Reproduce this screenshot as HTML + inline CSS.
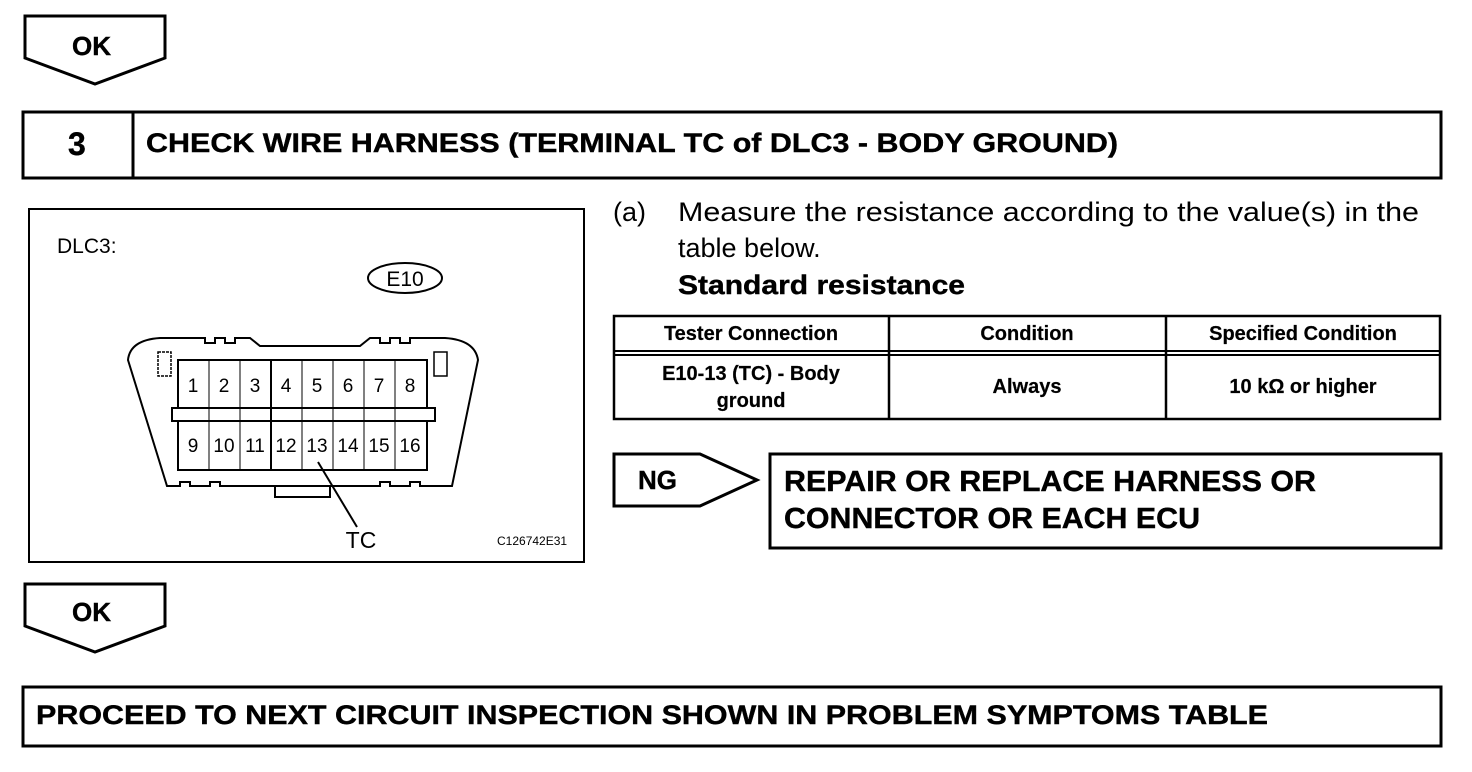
<!DOCTYPE html>
<html><head><meta charset="utf-8"><style>html,body{margin:0;padding:0;background:#fff}svg{display:block}</style></head>
<body>
<svg width="1472" height="772" viewBox="0 0 1472 772" xmlns="http://www.w3.org/2000/svg" font-family="Liberation Sans, Arial, sans-serif">
<g fill="none" stroke="#000" stroke-width="3">
<polygon points="25,16 165,16 165,58 95,84 25,58"/>
<rect x="23" y="112" width="1418" height="66"/>
<line x1="133" y1="112" x2="133" y2="178"/>
<polygon points="25,584 165,584 165,626 95,652 25,626"/>
<rect x="23" y="687" width="1418" height="59"/>
<polygon points="614,454 700,454 757,480 700,506 614,506"/>
<rect x="770" y="454" width="671" height="94"/>
<rect x="614" y="316" width="826" height="103" stroke-width="2.5"/>
<line x1="889" y1="316" x2="889" y2="419" stroke-width="2.5"/>
<line x1="1166" y1="316" x2="1166" y2="419" stroke-width="2.5"/>
<line x1="614" y1="351" x2="1440" y2="351" stroke-width="2"/>
<line x1="614" y1="355" x2="1440" y2="355" stroke-width="2"/>
<rect x="29" y="209" width="555" height="353" stroke-width="2"/>
</g>
<g font-weight="bold" fill="#000" stroke="#000" stroke-width="0.4">
<text x="72" y="55" font-size="26">OK</text>
<text x="72" y="621" font-size="26">OK</text>
<text x="68" y="155" font-size="32">3</text>
<text x="146" y="152" font-size="27" textLength="972" lengthAdjust="spacingAndGlyphs">CHECK WIRE HARNESS (TERMINAL TC of DLC3 - BODY GROUND)</text>
<text x="36" y="724" font-size="27" textLength="1232" lengthAdjust="spacingAndGlyphs">PROCEED TO NEXT CIRCUIT INSPECTION SHOWN IN PROBLEM SYMPTOMS TABLE</text>
<text x="638" y="489" font-size="26">NG</text>
<text x="784" y="491" font-size="29" textLength="532" lengthAdjust="spacingAndGlyphs">REPAIR OR REPLACE HARNESS OR</text>
<text x="784" y="528" font-size="29" textLength="416" lengthAdjust="spacingAndGlyphs">CONNECTOR OR EACH ECU</text>
<text x="678" y="294" font-size="27" textLength="287" lengthAdjust="spacingAndGlyphs">Standard resistance</text>
<g font-size="20" text-anchor="middle" stroke-width="0.2">
<text x="751" y="340">Tester Connection</text>
<text x="1027" y="340">Condition</text>
<text x="1303" y="340">Specified Condition</text>
<text x="751" y="380">E10-13 (TC) - Body</text>
<text x="751" y="407">ground</text>
<text x="1027" y="393">Always</text>
<text x="1303" y="393">10 kΩ or higher</text>
</g>
</g>
<g fill="#000" font-size="27">
<text x="613" y="221">(a)</text>
<text x="678" y="221" textLength="741" lengthAdjust="spacingAndGlyphs">Measure the resistance according to the value(s) in the</text>
<text x="678" y="257">table below.</text>
</g>
<!-- connector -->
<g fill="none" stroke="#000" stroke-width="2">
<path d="M160,338 L205,338 L205,343 L215,343 L215,338 L225,338 L225,343 L235,343 L235,338 L250,338 L260,346 L360,346 L370,338 L380,338 L380,343 L390,343 L390,338 L400,338 L400,343 L410,343 L410,338 L445,338 Q475,340 478,360 L452,486 L420,486 L420,482 L410,482 L410,486 L390,486 L390,482 L380,482 L380,486 L220,486 L220,482 L210,482 L210,486 L190,486 L190,482 L180,482 L180,486 L167,486 L128,360 Q130,340 160,338 Z"/>
<rect x="178" y="360" width="249" height="110"/>
<rect x="172" y="408" width="263" height="13" fill="#fff"/>
<rect x="158" y="352" width="13" height="24" stroke-width="1.5" stroke-dasharray="3,1"/>
<rect x="434" y="352" width="13" height="24" stroke-width="1.5"/>
<path d="M275,486 L275,497 L330,497 L330,486"/>
<line x1="318" y1="462" x2="357" y2="527"/>
<ellipse cx="405" cy="278" rx="37" ry="15"/>
</g>
<g stroke="#000" stroke-width="1">
<line x1="209" y1="360" x2="209" y2="470"/><line x1="240" y1="360" x2="240" y2="470"/><line x1="271" y1="360" x2="271" y2="470" stroke-width="2"/><line x1="302" y1="360" x2="302" y2="470"/><line x1="333" y1="360" x2="333" y2="470"/><line x1="364" y1="360" x2="364" y2="470"/><line x1="395" y1="360" x2="395" y2="470"/>
</g>
<g fill="#000" font-size="19" text-anchor="middle">
<text x="193" y="392">1</text><text x="224" y="392">2</text><text x="255" y="392">3</text><text x="286" y="392">4</text><text x="317" y="392">5</text><text x="348" y="392">6</text><text x="379" y="392">7</text><text x="410" y="392">8</text>
<text x="193" y="452">9</text><text x="224" y="452">10</text><text x="255" y="452">11</text><text x="286" y="452">12</text><text x="317" y="452">13</text><text x="348" y="452">14</text><text x="379" y="452">15</text><text x="410" y="452">16</text>
<text x="405" y="286" font-size="21">E10</text>
<text x="361" y="548" font-size="23">TC</text>
</g>
<text x="57" y="253" font-size="21" fill="#000">DLC3:</text>
<text x="497" y="545" font-size="12" fill="#000">C126742E31</text>
</svg>
</body></html>
